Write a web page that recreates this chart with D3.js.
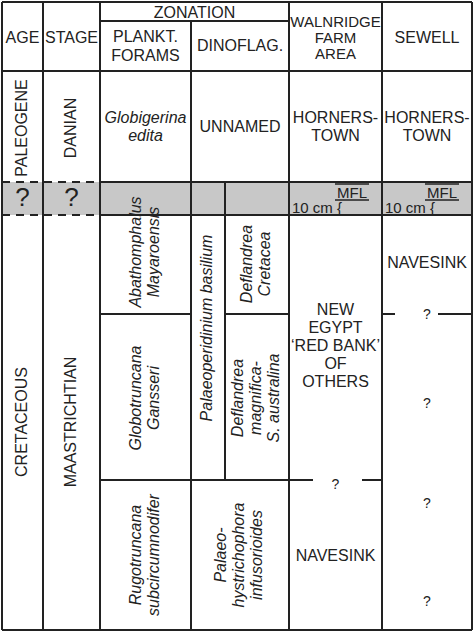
<!DOCTYPE html>
<html><head><meta charset="utf-8">
<script src="https://cdn.jsdelivr.net/npm/d3@7"></script>
<style>body{margin:0;background:#fff}text{font-family:Arial,"Liberation Sans",sans-serif;fill:#222}</style>
</head><body><svg></svg>
<script>
const width = 474, height = 632;
// column edges (units) and row edges (units)
const colEdges = [0, 41, 98, 189, 223, 287, 380, 470];
const rowEdges = { top: 0, zone: 19, head: 69, bandTop: 180, bandBot: 213, mid: 312, low: 478, bottom: 628 };
const headers = [
  { c0: 0, c1: 1, lines: ["AGE"] },
  { c0: 1, c1: 2, lines: ["STAGE"] },
  { c0: 2, c1: 3, lines: ["PLANKT.", "FORAMS"], sub: true },
  { c0: 3, c1: 5, lines: ["DINOFLAG."], sub: true },
  { c0: 5, c1: 6, lines: ["WALNRIDGE", "FARM", "AREA"] },
  { c0: 6, c1: 7, lines: ["SEWELL"] }
];
// horizontal cell labels
const flatLabels = [
  { c0: 2, c1: 3, y: 126, lines: ["Globigerina", "edita"], italic: true },
  { c0: 3, c1: 5, y: 126, lines: ["UNNAMED"] },
  { c0: 5, c1: 6, y: 126, lines: ["HORNERS-", "TOWN"] },
  { c0: 6, c1: 7, y: 126, lines: ["HORNERS-", "TOWN"] },
  { c0: 6, c1: 7, y: 262, lines: ["NAVESINK"] },
  { c0: 5, c1: 6, y: 345, lines: ["NEW", "EGYPT", "\u2018RED BANK\u2019", "OF", "OTHERS"] },
  { c0: 5, c1: 6, y: 555, lines: ["NAVESINK"] }
];
// vertical (rotated) labels: y is centre
const rotLabels = [
  { c0: 0, c1: 1, y: 126, lines: ["PALEOGENE"] },
  { c0: 1, c1: 2, y: 126, lines: ["DANIAN"] },
  { c0: 0, c1: 1, y: 420, lines: ["CRETACEOUS"] },
  { c0: 1, c1: 2, y: 420, lines: ["MAASTRICHTIAN"] },
  { c0: 2, c1: 3, y: 250, lines: ["Abathomphalus", "Mayaroensis"], italic: true },
  { c0: 2, c1: 3, y: 396, lines: ["Globotruncana", "Gansseri"], italic: true },
  { c0: 2, c1: 3, y: 553, lines: ["Rugotruncana", "subcircumnodifer"], italic: true },
  { c0: 3, c1: 4, y: 326, lines: ["Palaeoperidinium basilium"], italic: true },
  { c0: 4, c1: 5, y: 262, lines: ["Deflandrea", "Cretacea"], italic: true },
  { c0: 4, c1: 5, y: 396, lines: ["Deflandrea", "magnifica-", "S. australina"], italic: true },
  { c0: 3, c1: 5, y: 553, lines: ["Palaeo-", "hystrichophora", "infusorioides"], italic: true }
];
const queries = [
  { c: 6, y: 313 }, { c: 6, y: 402 }, { c: 6, y: 502 }, { c: 6, y: 600 }, { c: 5, y: 483 }
];

const x = d3.scaleLinear().domain([0, 470]).range([2, 472]);
const y = d3.scaleLinear().domain([0, 628]).range([2, 630]);
const cx = (a, b) => (x(colEdges[a]) + x(colEdges[b])) / 2;

const svg = d3.select("svg").attr("width", width).attr("height", height);

// gray MFL band
svg.append("rect").attr("x", x(0)).attr("y", y(rowEdges.bandTop))
  .attr("width", x(470) - x(0)).attr("height", y(rowEdges.bandBot) - y(rowEdges.bandTop))
  .attr("fill", "#c8c8c8");

const solid = [
  [0, rowEdges.top, 470, rowEdges.top], [0, rowEdges.bottom, 470, rowEdges.bottom],
  [0, rowEdges.top, 0, rowEdges.bottom], [470, rowEdges.top, 470, rowEdges.bottom],
  [41, 0, 41, 628], [98, 0, 98, 628], [189, 19, 189, 628], [287, 0, 287, 628], [380, 0, 380, 628],
  [223, 180, 223, 478],
  [98, 19, 287, 19], [0, 69, 470, 69],
  [98, 180, 470, 180], [98, 213, 470, 213],
  [98, 312, 189, 312], [223, 312, 287, 312],
  [98, 478, 287, 478],
  [287, 478, 311, 478], [360, 478, 380, 478],
  [380, 312, 393, 312], [436, 312, 470, 312]
];
svg.append("g").selectAll("line").data(solid).join("line")
  .attr("x1", d => x(d[0])).attr("y1", d => y(d[1]))
  .attr("x2", d => x(d[2])).attr("y2", d => y(d[3]))
  .attr("stroke", "#222").attr("stroke-width", 2);

const dashed = [[0, 180, 98, 180], [0, 213, 98, 213]];
svg.append("g").selectAll("line").data(dashed).join("line")
  .attr("x1", d => x(d[0])).attr("y1", d => y(d[1]))
  .attr("x2", d => x(d[2])).attr("y2", d => y(d[3]))
  .attr("stroke", "#222").attr("stroke-width", 2).attr("stroke-dasharray", "8,6");

function lines(g, ls, lh) {
  const off = -(ls.length - 1) * lh / 2;
  ls.forEach((t, i) => g.append("tspan").attr("x", 0).attr("dy", i === 0 ? off : lh).text(t));
}

// headers
svg.append("text").attr("x", cx(2, 5)).attr("y", y(16)).attr("text-anchor", "middle")
  .attr("font-size", 16).text("ZONATION");
headers.forEach(h => {
  const t = svg.append("text").attr("transform", `translate(${cx(h.c0, h.c1)},${y(h.sub ? 45 : 37)})`)
    .attr("text-anchor", "middle").attr("dominant-baseline", "middle")
    .attr("font-size", h.lines.length === 3 ? 15 : 16);
  lines(t, h.lines, h.lines.length === 3 ? 16 : 19);
});

flatLabels.forEach(l => {
  const t = svg.append("text").attr("transform", `translate(${cx(l.c0, l.c1)},${y(l.y)})`)
    .attr("text-anchor", "middle").attr("dominant-baseline", "middle")
    .attr("font-size", 16).attr("font-style", l.italic ? "italic" : null);
  lines(t, l.lines, 18);
});

rotLabels.forEach(l => {
  const t = svg.append("text").attr("transform", `translate(${cx(l.c0, l.c1)},${y(l.y)}) rotate(-90)`)
    .attr("text-anchor", "middle").attr("dominant-baseline", "middle")
    .attr("font-size", 16).attr("font-style", l.italic ? "italic" : null);
  lines(t, l.lines, 18);
});

// question marks
svg.selectAll(".q").data(queries).join("text")
  .attr("x", d => cx(d.c, d.c + 1)).attr("y", d => y(d.y))
  .attr("text-anchor", "middle").attr("dominant-baseline", "middle").attr("font-size", 14).text("?");
[0, 1].forEach(c => svg.append("text").attr("x", cx(c, c + 1)).attr("y", y(197))
  .attr("text-anchor", "middle").attr("dominant-baseline", "middle").attr("font-size", 26).text("?"));

// MFL marks
[5, 6].forEach(c => {
  const x0 = x(colEdges[c]), x1 = x(colEdges[c + 1]);
  const mx = x1 - 30;
  svg.append("text").attr("x", mx).attr("y", y(196)).attr("text-anchor", "middle")
    .attr("font-size", 15).text("MFL");
  svg.append("line").attr("x1", mx - 17).attr("x2", mx + 17).attr("y1", y(182)).attr("y2", y(182))
    .attr("stroke", "#222").attr("stroke-width", 1.5);
  svg.append("line").attr("x1", mx - 17).attr("x2", mx + 17).attr("y1", y(198)).attr("y2", y(198))
    .attr("stroke", "#222").attr("stroke-width", 1.5);
  svg.append("text").attr("x", x0 + 3).attr("y", y(211)).attr("font-size", 15).text("10 cm {");
});
</script></body></html>
